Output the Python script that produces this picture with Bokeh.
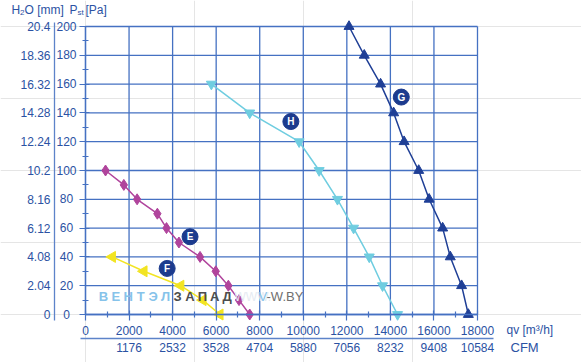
import math
from bokeh.plotting import figure
from bokeh.models import LinearAxis, FixedTicker, Range1d
from bokeh.core.properties import value
from bokeh.embed import file_html
from bokeh.resources import INLINE

# ---- data ----
g_q = [12100, 12800, 13550, 14150, 14630, 15300, 15780, 16400, 16750, 17270, 17580]
g_p = [200, 180, 160, 140, 120, 100, 80, 60, 40, 20, 0]
h_q = [5780, 7540, 9810, 10730, 11570, 12310, 13030, 13640, 14330]
h_p = [160, 140, 120, 100, 80, 60, 40, 20, 0]
e_q = [920, 1760, 2370, 3300, 3720, 4290, 5260, 5980, 6560, 7050, 7540]
e_p = [100, 90, 80, 70, 60, 50, 40, 30, 20, 10, 0]
f_q = [1230, 2680, 4370, 5390, 6170]
f_p = [40, 30, 20, 10, 0]

curve_names = ["G", "H", "E", "F"]
name_q = [14500, 9430, 4800, 3750]
name_p = [151, 134, 54, 32]

pa_ticks = [0, 20, 40, 60, 80, 100, 120, 140, 160, 180, 200]
mm_labels = ["0", "2.04", "4.08", "6.12", "8.16", "10.2", "12.24", "14.28", "16.32", "18.36", "20.4"]
q_ticks = [0, 2000, 4000, 6000, 8000, 10000, 12000, 14000, 16000, 18000]
cfm_labels = ["", "1176", "2532", "3528", "4704", "5880", "7056", "8232", "9408", "10584"]

# ---- styling ----
BLUE_TXT = "#2b52a3"
GRID = "#4571c2"
SEP = "#5d83c9"
FONT = "Liberation Sans"
W, H = 581, 362
FL, FR, FT, FB = 85, 477, 26, 314  # where 0..18000 / 0..200 sit, in pixels
XMAX, YMAX = 18000, 200

def dx(px):
    return (px - FL) / (FR - FL) * XMAX

def dy(py):
    return (FB - py) / (FB - FT) * YMAX

# the frame covers the whole canvas; axes are pinned with fixed_location
p = figure(width=W, height=H, x_range=Range1d(dx(0), dx(W)), y_range=Range1d(dy(H), dy(0)),
           x_axis_location=None, y_axis_location=None, toolbar_location=None,
           output_backend="svg", min_border=0)
p.outline_line_color = None
p.background_fill_color = "white"
p.border_fill_color = "white"

# grid lines (only inside 0..18000 x 0..200)
p.segment(x0=q_ticks, y0=[0] * len(q_ticks), x1=q_ticks, y1=[YMAX] * len(q_ticks),
          line_color=GRID, line_width=1.3)
p.segment(x0=[0] * len(pa_ticks), y0=pa_ticks, x1=[XMAX] * len(pa_ticks), y1=pa_ticks,
          line_color=GRID, line_width=1.3)

xt = FixedTicker(ticks=q_ticks, minor_ticks=[1000 + 2000 * i for i in range(9)])
yt = FixedTicker(ticks=pa_ticks, minor_ticks=[10 + 20 * i for i in range(10)])

def style_axis(ax, ticks_visible=True):
    ax.major_label_text_font = FONT
    ax.major_label_text_font_size = "12px"
    ax.major_label_text_color = BLUE_TXT
    if ticks_visible:
        ax.major_tick_line_color = GRID
        ax.minor_tick_line_color = GRID
        ax.major_tick_line_width = 1.2
        ax.minor_tick_line_width = 1.2
        ax.major_tick_in = 4
        ax.major_tick_out = 6
        ax.minor_tick_in = 3
        ax.minor_tick_out = 3
    else:
        ax.major_tick_line_color = None
        ax.minor_tick_line_color = None
        ax.major_tick_in = 0
        ax.major_tick_out = 0

# Pa labels are centred in their column: pad the short ones on the right
def pa_label(t):
    s = str(t)
    if len(s) == 1:
        return s + "\u2007"
    if len(s) == 2:
        return s + "\u2008"
    return s

# left: Pa axis at q = 0, mm axis further left
ax_pa = LinearAxis(ticker=yt, fixed_location=0, bounds=(0, YMAX),
                   major_label_overrides={t: pa_label(t) for t in pa_ticks})
style_axis(ax_pa)
ax_pa.axis_line_color = GRID
ax_pa.axis_line_width = 1.3
ax_pa.major_label_standoff = 3
p.add_layout(ax_pa, "left")

ax_mm = LinearAxis(ticker=FixedTicker(ticks=pa_ticks), fixed_location=dx(54),
                   bounds=(dy(320), dy(22)),
                   major_label_overrides={t: s for t, s in zip(pa_ticks, mm_labels)})
style_axis(ax_mm, ticks_visible=False)
ax_mm.axis_line_color = SEP
ax_mm.axis_line_width = 1.3
ax_mm.major_label_standoff = 4
p.add_layout(ax_mm, "left")

# bottom: m3/h axis at p = 0, CFM axis below
ax_q = LinearAxis(ticker=xt, fixed_location=0, bounds=(0, XMAX))
style_axis(ax_q)
ax_q.axis_line_color = GRID
ax_q.axis_line_width = 1.3
ax_q.major_label_standoff = 5
p.add_layout(ax_q, "below")

ax_cfm = LinearAxis(ticker=FixedTicker(ticks=q_ticks), fixed_location=dy(338),
                    bounds=(dx(80), dx(493)),
                    major_label_overrides={t: s for t, s in zip(q_ticks, cfm_labels)})
style_axis(ax_cfm, ticks_visible=False)
ax_cfm.axis_line_color = SEP
ax_cfm.axis_line_width = 1.3
ax_cfm.major_label_standoff = 4
p.add_layout(ax_cfm, "below")

# ---- curves ----
G_C, H_C, E_C, F_C = "#1f3f96", "#6fcde0", "#b0449c", "#f2e422"
p.line(g_q, g_p, line_color=G_C, line_width=1.5)
p.scatter(g_q, g_p, marker="triangle", size=10, fill_color=G_C, line_color=G_C)
p.line(h_q, h_p, line_color=H_C, line_width=1.5)
p.scatter(h_q, h_p, marker="inverted_triangle", size=10, fill_color=H_C, line_color=H_C)
p.line(e_q, e_p, line_color=E_C, line_width=1.5)
p.scatter(e_q, e_p, marker="diamond", size=11, fill_color=E_C, line_color=E_C)
p.line(f_q, f_p, line_color=F_C, line_width=1.5)
p.scatter(f_q, f_p, marker="triangle", angle=math.pi / 2, size=11, fill_color=F_C, line_color=F_C)

# ---- watermark ----
wm1 = list("ВЕНТЭЛ")
wm2 = list("ЗАПАД")
pitch = 12.4
x1 = [dx(103 + pitch * i) for i in range(len(wm1))]
x2 = [dx(177 + pitch * i) for i in range(len(wm2))]
wy = dy(296)
p.text(x1, [wy] * len(wm1), text=wm1, text_font=value(FONT), text_font_size="13px",
       text_color="#86c3ea", text_align="center", text_baseline="middle", text_font_style="bold")
p.text(x2, [wy] * len(wm2), text=wm2, text_font=value(FONT), text_font_size="13px",
       text_color="#4d4d4d", text_align="center", text_baseline="middle", text_font_style="bold")
p.text([dx(234)], [wy], text=["WWW."], text_font=value(FONT), text_font_size="12px",
       text_color="#e6ebf2", text_align="left", text_baseline="middle")
p.text([dx(258)], [wy], text=["V"], text_font=value(FONT), text_font_size="13px",
       text_color="#86c3ea", text_align="left", text_baseline="middle")
p.text([dx(266)], [wy], text=["-W.BY"], text_font=value(FONT), text_font_size="13px",
       text_color="#6f6f6f", text_align="left", text_baseline="middle")

# ---- curve name badges ----
p.scatter(name_q, name_p, marker="circle", size=16, fill_color="#1c3b8e", line_color="#1c3b8e")
p.text(name_q, name_p, text=curve_names, text_font=value(FONT), text_font_size="10px",
       text_font_style="bold", text_color="white", text_align="center", text_baseline="middle")

# ---- header / unit labels ----
def lab(px, py, txt, size="12px", color=BLUE_TXT):
    p.text([dx(px)], [dy(py)], text=[txt], text_font=value(FONT), text_font_size=size,
           text_color=color, text_align="left", text_baseline="middle")

lab(11, 9, "H")
lab(19.5, 12, "2", size="8px")
lab(24, 9, "O [mm]")
lab(69, 9, "P")
lab(77, 12, "st", size="8px")
lab(85, 9, "[Pa]")
lab(506, 329, "qv  [m³/h]")
lab(510, 347, "CFM", size="13px")

open("out.html", "w").write(file_html(p, INLINE))
